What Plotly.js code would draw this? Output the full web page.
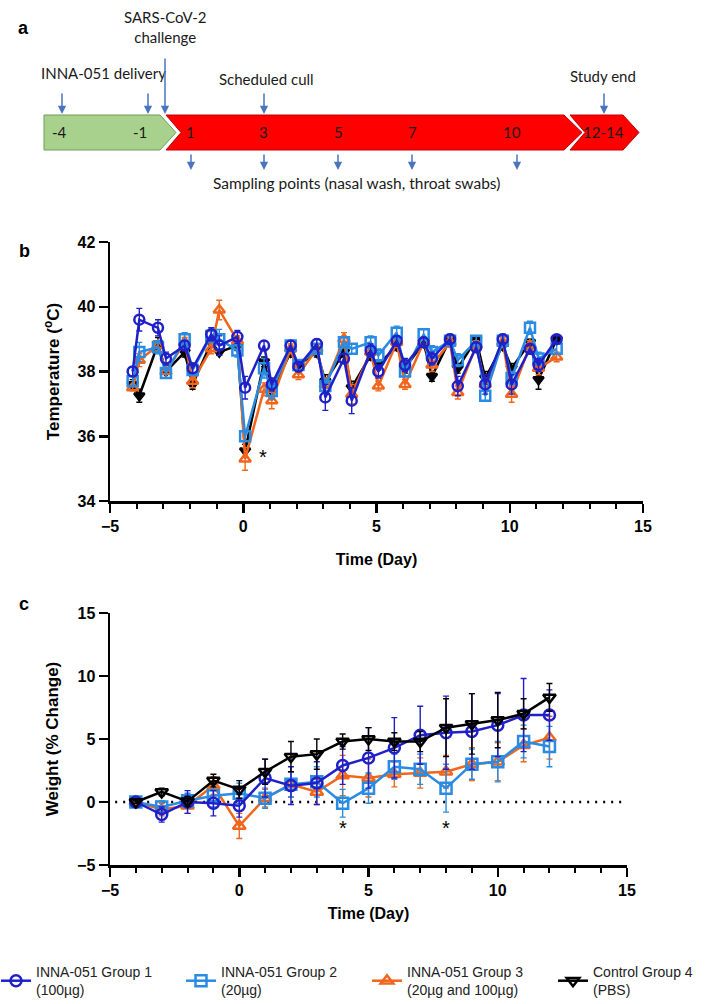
<!DOCTYPE html>
<html><head><meta charset="utf-8">
<script src="https://cdn.plot.ly/plotly-3.0.1.min.js"></script>
<style>html,body{margin:0;padding:0;background:#fff}#chart{width:708px;height:1004px}</style>
</head><body><div id="chart"></div>
<script>
// ---------- Panel b: temperature ----------
const tempDays=[-4.15,-3.9,-3.2,-2.9,-2.2,-1.9,-1.2,-0.9,-0.22,0.07,0.78,1.07,1.78,2.07,2.76,3.08,3.78,4.07,4.78,5.07,5.76,6.07,6.77,7.08,7.76,8.05,8.74,9.08,9.74,10.07,10.76,11.08,11.76];
const tempG1=[38.0,39.6,39.35,38.4,38.8,38.1,39.15,38.8,39.07,37.5,38.8,37.6,38.8,38.15,38.85,37.2,38.4,37.1,38.65,38.0,38.95,38.2,38.9,38.4,39.0,37.55,38.75,37.6,39.0,37.6,38.7,38.2,39.0];
const tempG2=[37.7,38.6,38.75,37.95,39.0,38.05,39.1,39.0,38.65,36.0,38.1,37.4,38.8,38.2,38.7,37.55,38.9,38.7,38.9,38.5,39.2,38.0,39.15,38.6,38.95,38.35,38.95,37.25,38.95,37.8,39.35,38.4,38.7];
const tempG3=[37.5,38.35,38.8,38.0,38.9,37.7,38.7,39.9,38.95,35.3,37.45,37.1,38.7,37.9,38.7,37.6,39.0,37.3,38.6,37.55,38.9,37.6,38.9,38.2,38.9,37.35,38.8,37.6,38.9,37.3,38.8,38.1,38.45];
const tempG4=[37.6,37.25,38.85,38.0,38.6,37.6,38.9,38.6,38.8,35.55,38.3,37.4,38.6,38.2,38.6,37.7,38.6,37.5,38.5,38.2,38.8,38.1,38.9,37.85,39.0,38.1,39.0,37.8,38.8,38.1,38.9,37.75,39.0];
const tempErrG1=[0.15,0.35,0.25,0.2,0.15,0.15,0.2,0.3,0.2,0.35,0.15,0.2,0.15,0.15,0.15,0.4,0.15,0.4,0.2,0.2,0.15,0.2,0.15,0.2,0.15,0.3,0.15,0.3,0.15,0.3,0.15,0.2,0.1];
const tempErrG2=[0.15,0.3,0.2,0.15,0.2,0.15,0.2,0.3,0.2,0.15,0.3,0.25,0.15,0.15,0.15,0.2,0.15,0.15,0.2,0.2,0.2,0.15,0.15,0.2,0.15,0.2,0.15,0.15,0.15,0.2,0.2,0.2,0.15];
const tempErrG3=[0.1,0.2,0.15,0.2,0.15,0.2,0.15,0.3,0.15,0.35,0.2,0.25,0.15,0.15,0.15,0.2,0.2,0.3,0.15,0.15,0.15,0.15,0.15,0.2,0.15,0.2,0.15,0.2,0.15,0.25,0.15,0.2,0.15];
const tempErrG4=[0.15,0.2,0.2,0.2,0.15,0.15,0.15,0.1,0.15,0.2,0.15,0.2,0.15,0.15,0.15,0.2,0.15,0.2,0.15,0.15,0.15,0.15,0.15,0.15,0.1,0.15,0.1,0.2,0.1,0.15,0.1,0.3,0.1];

// ---------- Panel c: weight ----------
const weightDays=[-4,-3,-2,-1,0,1,2,3,4,5,6,7,8,9,10,11,12];
const weightG1=[0,-1.0,0.0,-0.1,-0.3,1.9,1.3,1.5,2.9,3.5,4.3,5.3,5.5,5.6,6.1,6.9,6.9];
const weightG2=[0,-0.4,0.1,0.5,0.7,0.3,1.4,1.6,-0.1,1.1,2.8,2.6,1.1,3.0,3.2,4.8,4.4];
const weightG3=[0,-0.6,-0.3,1.3,-1.9,0.3,1.4,0.8,2.1,1.9,2.2,2.3,2.4,3.0,3.2,4.5,5.1];
const weightG4=[0,0.8,0.05,1.7,1.0,2.4,3.6,3.8,4.8,5.0,4.8,4.8,5.9,6.2,6.5,7.0,8.3];
const weightErrG1=[0.1,0.6,0.9,1.0,0.9,1.5,1.5,1.7,1.5,2.4,2.4,2.3,2.9,3.0,2.5,2.9,2.0];
const weightErrG2=[0.1,0.5,0.6,0.9,0.8,0.8,1.0,1.2,1.1,1.2,1.0,1.2,1.9,1.2,1.6,1.3,1.6];
const weightErrG3=[0.1,0.5,0.6,0.7,1.0,0.7,1.0,1.0,1.6,1.5,1.0,1.2,1.3,1.3,1.5,1.3,1.7];
const weightErrG4=[0.1,0.3,0.4,0.5,0.7,1.0,1.2,1.2,0.6,0.9,0.7,0.8,2.3,2.4,2.2,1.2,1.1];

const groupNames=['INNA-051 Group 1<br>(100µg)','INNA-051 Group 2<br>(20µg)','INNA-051 Group 3<br>(20µg and 100µg)','Control Group 4<br>(PBS)'];

// ---------- Panel a: timeline ----------
const barDayLabels=['-4','-1','1','3','5','7','10','12-14'];
const barDayPos=[59,140,190,263,338,412,512,603];
const topArrowPos=[62,148,264,604];
const samplingArrowPos=[191,264,338,412,517];

const W=708,H=1004;
const px=p=>p/W, py=p=>1-p/H;
const colors={g1:'#2020c8',g2:'#2a8be3',g3:'#f0661c',g4:'#000000'};
const symbols={g1:'circle-open',g2:'square-open',g3:'triangle-up-open',g4:'triangle-down-open'};

function trace(x,y,e,key,xa,ya,name,showlegend,legend,msize,rank,sym){
  return {x:x,y:y,type:'scatter',mode:'lines+markers',xaxis:xa,yaxis:ya,name:name,
    showlegend:showlegend,legend:legend,legendrank:rank,
    line:{color:colors[key],width:2.5},
    marker:{symbol:sym||symbols[key],size:msize,color:colors[key],line:{color:colors[key],width:2.5}},
    error_y:{type:'data',array:e,visible:true,color:colors[key],thickness:1.4,width:3},
    hoverinfo:'skip'};
}

const data=[
  trace(tempDays,tempG4,tempErrG4,'g4','x','y','',false,'legend',9,4,'triangle-down'),
  trace(tempDays,tempG3,tempErrG3,'g3','x','y','',false,'legend',10,3),
  trace(tempDays,tempG2,tempErrG2,'g2','x','y','',false,'legend',10,2),
  trace(tempDays,tempG1,tempErrG1,'g1','x','y','',false,'legend',10,1),
  trace(weightDays,weightG3,weightErrG3,'g3','x2','y2',groupNames[2],true,'legend3',11,3),
  trace(weightDays,weightG2,weightErrG2,'g2','x2','y2',groupNames[1],true,'legend2',11,2),
  trace(weightDays,weightG1,weightErrG1,'g1','x2','y2',groupNames[0],true,'legend',11,1),
  trace(weightDays,weightG4,weightErrG4,'g4','x2','y2',groupNames[3],true,'legend4',11,4)
];

const tickFont={family:'Liberation Sans, Arial, sans-serif',size:16,color:'#000',weight:'bold'};
const titleFont={family:'Liberation Sans, Arial, sans-serif',size:16,color:'#000',weight:'bold'};
const yTitleFont={family:'Liberation Sans, Arial, sans-serif',size:17,color:'#000',weight:'bold'};
const axBase={showline:true,linewidth:2.5,linecolor:'#000',ticks:'outside',ticklen:9,tickwidth:2.5,tickcolor:'#000',
  showgrid:false,zeroline:false,tickfont:tickFont,fixedrange:true,tickmode:'linear'};
const minorX={dtick:1,tick0:-5,ticks:'outside',ticklen:5,tickwidth:2,tickcolor:'#000',showgrid:false};

const legFont={family:'Liberation Sans, Arial, sans-serif',size:14,color:'#222'};
function leg(xp){return {xref:'paper',yref:'paper',x:xp/W,y:(H-981)/H,xanchor:'left',yanchor:'middle',
  bgcolor:'rgba(0,0,0,0)',borderwidth:0,font:legFont,orientation:'v'};}

const aFont={family:'Lato, Open Sans, sans-serif',size:15,color:'#1a1a1a'};
const annotations=[];
// panel letters
annotations.push({xref:'paper',yref:'paper',x:px(16),y:py(16),text:'<b>a</b>',showarrow:false,font:{family:'Liberation Sans, Arial',size:18,color:'#000'}});
annotations.push({xref:'paper',yref:'paper',x:px(17),y:py(239),text:'<b>b</b>',showarrow:false,font:{family:'Liberation Sans, Arial',size:18,color:'#000'}});
annotations.push({xref:'paper',yref:'paper',x:px(17),y:py(604),text:'<b>c</b>',showarrow:false,font:{family:'Liberation Sans, Arial',size:18,color:'#000'}});
// timeline texts
annotations.push({xref:'x3',yref:'y3',x:165,y:27,text:'SARS-CoV-2<br>challenge',showarrow:false,font:aFont});
annotations.push({xref:'x3',yref:'y3',x:103,y:73,text:'INNA-051 delivery',showarrow:false,font:aFont});
annotations.push({xref:'x3',yref:'y3',x:266,y:79,text:'Scheduled cull',showarrow:false,font:aFont});
annotations.push({xref:'x3',yref:'y3',x:603,y:76,text:'Study end',showarrow:false,font:aFont});
annotations.push({xref:'x3',yref:'y3',x:356,y:183,text:'Sampling points (nasal wash, throat swabs)',showarrow:false,font:{family:'Lato, Open Sans, sans-serif',size:15.5,color:'#1a1a1a'}});
barDayLabels.forEach((t,i)=>annotations.push({xref:'x3',yref:'y3',x:barDayPos[i],y:132,text:t,showarrow:false,font:aFont}));
const arrowColor='#4a74bf';
function arrow(x,y0,y1){return {xref:'x3',yref:'y3',axref:'x3',ayref:'y3',x:x,y:y1,ax:x,ay:y0,text:'',showarrow:true,
  arrowhead:2,arrowsize:1.1,arrowwidth:1.5,arrowcolor:arrowColor,standoff:0,startstandoff:0};}
topArrowPos.forEach(x=>annotations.push(arrow(x,92,114)));
annotations.push(arrow(165,57,114));
samplingArrowPos.forEach(x=>annotations.push(arrow(x,153,170)));
// significance stars
const starFont={family:'Liberation Sans, Arial',size:20,color:'#000'};
annotations.push({xref:'x',yref:'y',x:0.73,y:35.35,text:'*',showarrow:false,font:starFont});
annotations.push({xref:'x2',yref:'y2',x:4,y:-2.1,text:'*',showarrow:false,font:starFont});
annotations.push({xref:'x2',yref:'y2',x:8,y:-2.1,text:'*',showarrow:false,font:starFont});

const shapes=[
  {type:'path',xref:'x3',yref:'y3',path:'M 44 115 L 160 115 L 176 132.5 L 160 150 L 44 150 Z',fillcolor:'#a9d18e',line:{color:'#6f9e52',width:1}},
  {type:'path',xref:'x3',yref:'y3',path:'M 166 115 L 564 115 L 582 132.5 L 564 150 L 166 150 L 181 132.5 Z',fillcolor:'#ff0000',line:{color:'#c00000',width:1}},
  {type:'path',xref:'x3',yref:'y3',path:'M 570 115 L 623 115 L 639 132.5 L 623 150 L 570 150 L 585 132.5 Z',fillcolor:'#ff0000',line:{color:'#c00000',width:1}},
  {type:'line',xref:'x2',yref:'y2',x0:-4.8,x1:15,y0:0,y1:0,layer:'below',line:{color:'#000',width:2.5,dash:'2px,6px'}}
];

const layout={
  width:W,height:H,margin:{l:0,r:0,t:0,b:0,autoexpand:false},paper_bgcolor:'#fff',plot_bgcolor:'rgba(0,0,0,0)',
  showlegend:true,
  xaxis:Object.assign({},axBase,{domain:[px(110),px(643)],range:[-5,15],tick0:-5,dtick:5,anchor:'y',minor:minorX,
    title:{text:'Time (Day)',font:titleFont,standoff:20}}),
  yaxis:Object.assign({},axBase,{domain:[py(501),py(242)],range:[34,42],tick0:34,dtick:2,anchor:'x',
    title:{text:'Temperature (<sup>o</sup>C)',font:yTitleFont,standoff:14}}),
  xaxis2:Object.assign({},axBase,{domain:[px(110),px(627)],range:[-5,15],tick0:-5,dtick:5,anchor:'y2',minor:minorX,
    title:{text:'Time (Day)',font:titleFont,standoff:10}}),
  yaxis2:Object.assign({},axBase,{domain:[py(865),py(613)],range:[-5,15],tick0:-5,dtick:5,anchor:'x2',
    title:{text:'Weight (% Change)',font:yTitleFont,standoff:14}}),
  xaxis3:{domain:[0,1],range:[0,W],visible:false,fixedrange:true,anchor:'y3'},
  yaxis3:{domain:[py(200),1],range:[200,0],visible:false,fixedrange:true,anchor:'x3'},
  legend:leg(-4),legend2:leg(181),legend3:leg(367),legend4:leg(553),
  annotations:annotations,shapes:shapes
};
Plotly.newPlot('chart',data,layout,{staticPlot:true,displayModeBar:false});
</script></body></html>
